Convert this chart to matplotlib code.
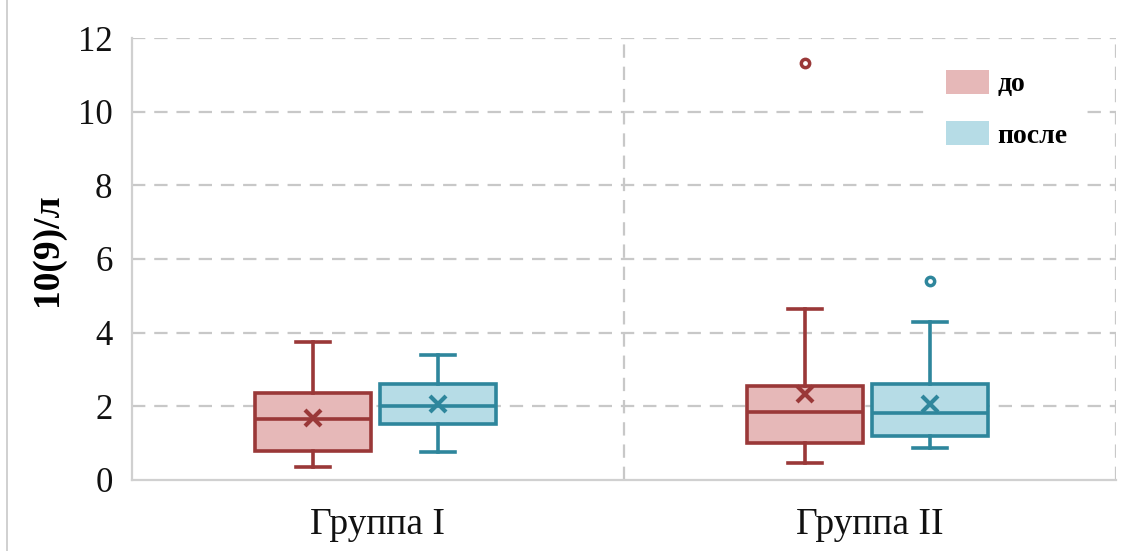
import matplotlib.pyplot as plt
from matplotlib.patches import Patch
from matplotlib.lines import Line2D

groups = ["Группа I", "Группа II"]
series = ["до", "после"]

# per series, per group: whisker low, Q1, median, Q3, whisker high, mean
whislo = {"до": [0.36, 0.47], "после": [0.77, 0.86]}
q1 = {"до": [0.78, 1.01], "после": [1.52, 1.18]}
med = {"до": [1.66, 1.84], "после": [2.01, 1.81]}
q3 = {"до": [2.37, 2.56], "после": [2.61, 2.60]}
whishi = {"до": [3.75, 4.64], "после": [3.40, 4.30]}
mean = {"до": [1.69, 2.33], "после": [2.07, 2.07]}
fliers = {"до": [[], [11.33]], "после": [[], [5.41]]}

edge = {"до": "#9a3838", "после": "#2e869c"}
fill = {"до": "#e6b8b8", "после": "#b6dce6"}
offset = {"до": -0.132, "после": 0.122}

serif = ["Liberation Serif", "DejaVu Serif"]
plt.rcParams["font.family"] = serif

fig = plt.figure(figsize=(11.31, 5.51), dpi=100)
ax = fig.add_axes([0.1167, 0.129, 0.87, 0.802])

for s in series:
    stats = []
    for i in range(len(groups)):
        stats.append(dict(whislo=whislo[s][i], q1=q1[s][i], med=med[s][i],
                          q3=q3[s][i], whishi=whishi[s][i], mean=mean[s][i],
                          fliers=fliers[s][i]))
    pos = [i + offset[s] for i in range(len(groups))]
    c = edge[s]
    ax.bxp(stats, positions=pos, widths=0.237, patch_artist=True,
           showmeans=True, showfliers=True,
           boxprops=dict(facecolor=fill[s], edgecolor=c, linewidth=2.6),
           medianprops=dict(color=c, linewidth=2.6),
           whiskerprops=dict(color=c, linewidth=2.6),
           capprops=dict(color=c, linewidth=2.6),
           capwidths=0.07,
           meanprops=dict(marker="x", markeredgecolor=c, markersize=11,
                          markeredgewidth=3),
           flierprops=dict(marker="o", markerfacecolor="white",
                           markeredgecolor=c, markersize=6,
                           markeredgewidth=2.5),
           zorder=3)

ax.set_xlim(-0.5, 1.5)
ax.set_ylim(0, 12)
ax.set_yticks(range(0, 13, 2))
ax.set_xticks(range(len(groups)))
ax.set_xticklabels(groups)
ax.tick_params(axis="both", length=0, colors="#111111")
ax.tick_params(axis="y", labelsize=25, pad=14)
ax.tick_params(axis="x", labelsize=27, pad=20)

for y in range(2, 13, 2):
    ax.axhline(y, color="#c8c8c8", linestyle=(0, (6, 4)), linewidth=1.6, zorder=0)
for x in [0.5, 1.5]:
    ax.axvline(x, color="#c8c8c8", linestyle=(0, (6, 4)), linewidth=1.6, zorder=0)

for side in ["top", "right"]:
    ax.spines[side].set_visible(False)
for side in ["left", "bottom"]:
    ax.spines[side].set_color("#d0d0d0")
    ax.spines[side].set_linewidth(1.6)

ax.set_ylabel("10(9)/л", fontsize=27, fontweight="bold")
ax.yaxis.set_label_coords(-0.068, 0.52)

handles = [Patch(facecolor=fill[s], edgecolor="none") for s in series]
leg = ax.legend(handles, series, loc="upper right", bbox_to_anchor=(0.982, 0.997),
                frameon=True, fancybox=False, edgecolor="white", framealpha=1,
                prop=dict(family=serif, weight="bold", size=20),
                handlelength=1.55, handleheight=0.95, labelspacing=0.85,
                handletextpad=0.3, borderpad=0.6)

fig.add_artist(Line2D([0.0065, 0.0065], [0, 1], transform=fig.transFigure,
                      color="#c8c8c8", linewidth=1.2))

fig.savefig("out.png", dpi=100)
